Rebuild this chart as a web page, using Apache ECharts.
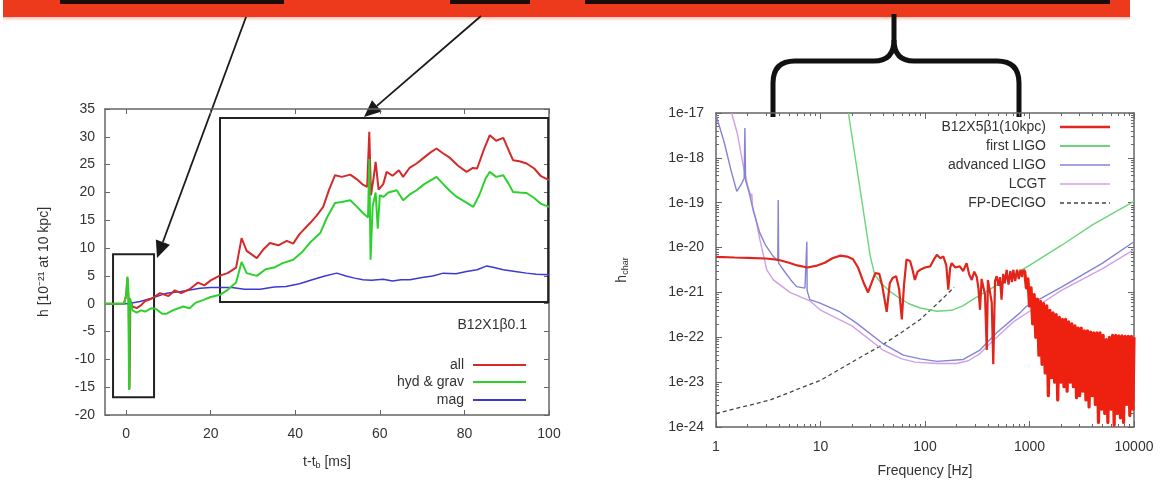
<!DOCTYPE html>
<html><head><meta charset="utf-8">
<script src="https://cdn.jsdelivr.net/npm/echarts@6/dist/echarts.min.js"></script>
<style>html,body{margin:0;padding:0;background:#fff}#c{width:1162px;height:486px}</style>
</head><body><div id="c"></div>
<script>
// ---------- Left chart data (t - t_b [ms], h [1e-21 at 10 kpc]) ----------
const leftXTicks = [0, 20, 40, 60, 80, 100];
const allH = [[-5,0],[-0.5,0],[0,1.5],[0.3,4.6],[0.6,0.5],[0.8,-15.3],[1.0,0.5],[1.5,-0.5],[2.5,-0.8],[3.5,-0.3],[4.5,0.5],[6,0.9],[8,1.9],[10,1.4],[11.5,2.4],[13,1.9],[15,2.6],[17,3.8],[18.5,3.3],[20,4.2],[22,5.0],[24,5.5],[26,6.5],[27.3,11.8],[28.5,9.5],[30.9,8.2],[32.5,9.8],[34,10.9],[36,10.5],[38,11.3],[39.5,10.8],[41,12.5],[43.5,14.5],[45,15.8],[46.6,17.4],[48,20.5],[49.4,23.1],[51,22.8],[53,23.2],[54.5,22.4],[56,21.4],[57,21.0],[57.5,30.9],[57.9,19.5],[58.5,22.5],[59,25.5],[59.7,20.5],[60.8,21.5],[61.6,23.7],[63,23.0],[64.5,24],[65.5,22.8],[67,24.4],[68.7,25.2],[70.5,26.3],[72,27.2],[73.4,27.9],[75,27],[76.6,26.2],[78.5,24.8],[80.5,23.7],[82,24.4],[83,24.3],[84.5,27.5],[86,30.3],[87.5,29.3],[89.2,29.8],[90.5,27.5],[91.5,25.8],[93,25.6],[94.7,25.2],[96.5,24.3],[98,23],[100,22.2]];
const hydGravH = [[-5,0],[-0.5,0],[0,1.5],[0.3,4.9],[0.5,3.0],[0.7,-15.5],[0.9,1.0],[1.5,-1.2],[2.5,-1.6],[3.5,-1.2],[4.5,-1.4],[6,-0.8],[7,-0.9],[8.5,-1.8],[9.6,-1.8],[11,-1.2],[13.5,-0.5],[15,-0.8],[16.5,0.2],[18.3,0.7],[20,1.2],[22.2,1.6],[24,2.5],[26,3.8],[27.3,7.5],[28.5,5.5],[30.9,5.0],[33,6.2],[35,6.5],[37,7.3],[39.5,7.9],[41.5,9.2],[43.5,11],[45.9,12.7],[47.5,15.5],[49.4,18.1],[51,18.3],[53,18.6],[54.5,17.5],[56,16.3],[57.2,15.5],[57.5,26],[57.8,7.9],[58.3,17.5],[59,20],[59.5,13.5],[60,19.5],[60.8,19.2],[62,20],[64,20.4],[65.5,18.6],[67,19.6],[68.7,20.4],[70.5,21.5],[73.4,22.8],[75,21.5],[76.5,20.3],[78.2,19.2],[80,18.4],[82.1,17.4],[83.5,19.5],[85,22.5],[86,23.7],[87.5,22.8],[89.2,23.1],[90.5,21.5],[91.5,20.1],[93,20],[94.7,19.9],[96.5,19],[98,18],[100,17.4]];
const magH = [[-5,0],[0,0],[1,0.1],[3.3,0.4],[6,1.0],[9.6,1.9],[13,2.2],[17.5,2.8],[20,2.9],[25,2.9],[28,2.6],[31.7,2.6],[35,3.0],[37.8,3.1],[41,3.6],[44,4.3],[47,5.0],[49.8,5.5],[52,5.0],[54,4.6],[56,4.3],[58,4.2],[60.8,4.4],[63,4.1],[65,4.3],[67.1,4.3],[70,4.7],[72.5,5.0],[75,5.5],[78,5.4],[80.5,5.8],[83,6.1],[85.3,6.8],[87,6.5],[89.2,6.1],[92,5.8],[94.7,5.5],[97,5.3],[100,5.2]];
const bigBox = [[22.2, 33.4], [99.8, 0.3]];
const smallBox = [[-3.1, 8.9], [6.6, -16.8]];

// ---------- Right chart data (Frequency [Hz], h_char) ----------
const rightXTicks = [1, 10, 100, 1000, 10000];
const rightXTickLabels = ['1', '10', '100', '1000', '10000'];
const rightYTicks = [1e-24, 1e-23, 1e-22, 1e-21, 1e-20, 1e-19, 1e-18, 1e-17];
const rightYTickLabels = ['1e-24', '1e-23', '1e-22', '1e-21', '1e-20', '1e-19', '1e-18', '1e-17'];
// B12X5β1 spectrum, low-frequency part (below ~900 Hz)
const b12x5Low = [[1,6.2e-21],[1.5,6.0e-21],[2,5.9e-21],[3,5.7e-21],[4,5.3e-21],[5,4.6e-21],[6,4.0e-21],[7.5,3.6e-21],[9,3.9e-21],[11,4.6e-21],[13,5.8e-21],[15.5,6.6e-21],[18,6.3e-21],[20.5,5.5e-21],[23,3.5e-21],[26,1.6e-21],[28.5,1.0e-21],[31,1.7e-21],[33.5,2.7e-21],[36.5,2.6e-21],[39,1.4e-21],[43,3.7e-22],[46,1.6e-21],[49,2.1e-21],[53,2.3e-21],[56.5,1.2e-21],[60,2.5e-22],[63,1.5e-21],[66.5,5.4e-21],[72,5.0e-21],[76,3.2e-21],[80,1.9e-21],[85,2.9e-21],[90,3.2e-21],[100,3.6e-21],[112,3.8e-21],[122,5.5e-21],[130,6.9e-21],[140,5.8e-21],[150,6.3e-21],[160,4.0e-21],[167,1.15e-21],[174,3.5e-21],[180,4.5e-21],[195,3.6e-21],[215,3.8e-21],[232,3.0e-21],[250,4.5e-21],[265,2.5e-21],[280,1.9e-21],[296,2.9e-21],[313,2.2e-21],[325,1.2e-21],[336,4.1e-22],[348,2.0e-21],[360,1.9e-21],[375,9e-22],[390,5.2e-23],[400,1.9e-21],[417,2.1e-21],[435,6e-22],[450,2.5e-23],[468,1.8e-21],[485,2.3e-21],[505,1.4e-21],[522,2.2e-21],[540,6.9e-22],[560,2.6e-21],[580,1.6e-21],[605,3.2e-21],[630,1.5e-21],[655,3.0e-21],[680,1.7e-21],[700,3.2e-21],[730,1.8e-21],[760,3.2e-21],[790,2.0e-21],[820,3.2e-21],[850,2.2e-21],[874,3.2e-21]];
// B12X5β1 spectrum, dense high-frequency part (from ~900 Hz)
const b12x5High = [[874,3.2e-21],[902,2.8e-21],[933,1.26e-21],[966,2.0e-21],[1000,5.0e-22],[1035,1.26e-21],[1072,2.0e-22],[1109,8.9e-22],[1148,1.0e-22],[1189,7.1e-22],[1230,4.0e-23],[1274,6.3e-22],[1318,2.5e-23],[1365,5.6e-22],[1413,1.6e-23],[1462,5.0e-22],[1514,5.0e-24],[1567,4.0e-22],[1622,1.26e-23],[1679,3.5e-22],[1738,1.0e-23],[1799,3.2e-22],[1862,4.0e-24],[1928,2.8e-22],[1995,1.0e-23],[2065,2.5e-22],[2138,7.9e-24],[2213,2.5e-22],[2291,6.3e-24],[2371,2.2e-22],[2455,1.0e-23],[2541,2.0e-22],[2630,7.9e-24],[2723,1.8e-22],[2818,4.5e-24],[2917,1.6e-22],[3020,5.0e-24],[3126,1.6e-22],[3236,6.3e-24],[3350,1.4e-22],[3467,4.0e-24],[3589,1.4e-22],[3715,2.8e-24],[3846,1.3e-22],[3981,5.0e-24],[4121,1.26e-22],[4266,3.2e-24],[4416,1.26e-22],[4571,1.26e-24],[4732,1.26e-22],[4898,2.5e-24],[5070,1.1e-22],[5248,2.0e-24],[5433,8.9e-23],[5623,1.26e-24],[5821,1.0e-22],[6026,2.5e-24],[6237,1.1e-22],[6457,1.1e-24],[6683,1.1e-22],[6918,2.0e-24],[7161,1.07e-22],[7413,1.6e-24],[7674,1.07e-22],[7943,1.26e-24],[8222,1.05e-22],[8511,3.2e-24],[8810,1.05e-22],[9120,1.8e-24],[9441,1.05e-22],[9772,2.5e-24],[10000,1.0e-22]];
const firstLIGO = [[18.5,1.0e-17],[21,1.45e-18],[24,1.9e-19],[27.7,2.1e-20],[30,6.3e-21],[33,2.5e-21],[38,1.6e-21],[45,1.1e-21],[55,7.9e-22],[70,5.6e-22],[90,4.5e-22],[130,3.8e-22],[180,4.0e-22],[230,5.0e-22],[290,7.1e-22],[400,1.1e-21],[600,2.0e-21],[1000,4.0e-21],[2000,1.1e-20],[4000,3.2e-20],[10000,1.07e-19]];
const advLIGO = [[1,9e-18],[1.2,2.2e-18],[1.4,5e-19],[1.58,1.8e-19],[1.75,2.6e-19],[1.86,3.5e-19],[1.89,4.6e-18],[1.92,3.2e-19],[2.1,1.5e-19],[2.3,6e-20],[2.63,2.1e-20],[3.0,1.1e-20],[3.54,6.3e-21],[3.9,5e-21],[3.94,1.15e-19],[3.98,4.5e-21],[4.4,3.2e-21],[5.2,1.9e-21],[5.9,1.35e-21],[7.1,1.25e-21],[7.35,1.3e-21],[7.4,1.35e-20],[7.45,1.1e-21],[7.9,6.9e-22],[9.9,5.8e-22],[15,3.8e-22],[22,2.1e-22],[40,7.1e-23],[62,4.0e-23],[90,3.3e-23],[130,2.9e-23],[232,3.2e-23],[336,5.2e-23],[485,1.26e-22],[810,3.5e-22],[935,4.9e-22],[2000,1.3e-21],[5000,4.5e-21],[10000,1.35e-20]];
const lcgt = [[1.41,1e-17],[1.6,3.5e-18],[1.83,6.3e-19],[2.0,2.5e-19],[2.18,1.3e-19],[2.2,1.6e-19],[2.24,8e-20],[2.4,4.5e-20],[2.63,1.5e-20],[3.06,3.2e-21],[3.54,1.9e-21],[5.1,1.0e-21],[7.9,6.5e-22],[9.9,4.1e-22],[20,1.8e-22],[39.6,5.2e-23],[60,3.3e-23],[80,2.8e-23],[130,2.6e-23],[200,2.6e-23],[260,3.0e-23],[330,4.2e-23],[450,8.5e-23],[700,2.2e-22],[1000,3.8e-22],[2000,1.1e-21],[5000,3.4e-21],[10000,9e-21]];
const decigo = [[1,2.0e-24],[3.3,4.0e-24],[10,1.1e-23],[20,2.8e-23],[40,7.0e-23],[60,1.3e-22],[90,2.5e-22],[130,5.5e-22],[190,1.3e-21]];

const FONT = 'Liberation Sans, Arial, sans-serif';
const TXT = '#333';

function minorLog(lo, hi) { // minor tick positions 2..9 per decade
  const out = [];
  for (let e = lo; e < hi; e++) for (let m = 2; m <= 9; m++) out.push(m * Math.pow(10, e));
  return out;
}
const minorX = minorLog(0, 4), minorY = minorLog(-24, -17);

function arrow(x1, y1, x2, y2, len, hw, color) {
  const dx = x2 - x1, dy = y2 - y1, L = Math.hypot(dx, dy);
  const ux = dx / L, uy = dy / L, bx = x2 - ux * len, by = y2 - uy * len;
  return [
    { type: 'line', shape: { x1, y1, x2: bx, y2: by }, style: { stroke: color, lineWidth: 1.8 } },
    { type: 'polygon', shape: { points: [[x2, y2], [bx - uy * hw, by + ux * hw], [bx + uy * hw, by - ux * hw]] }, style: { fill: color } }
  ];
}

const chart = echarts.init(document.getElementById('c'), null, { renderer: 'canvas' });

const axisLineStyle = { show: true, onZero: false, lineStyle: { color: '#666', width: 1.5 } };
const labelStyle = { color: TXT, fontFamily: FONT, fontSize: 14 };

const leftMirror = (pos, extra) => Object.assign({
  type: 'value', gridIndex: 0, position: pos, axisLine: axisLineStyle,
  axisLabel: { show: false }, splitLine: { show: false }
}, extra);

const rightTickAxis = (pos, ticks, len, line, extra) => Object.assign({
  type: 'log', logBase: 10, gridIndex: 1, position: pos,
  axisLine: line ? axisLineStyle : { show: false, onZero: false },
  axisLabel: { show: false }, splitLine: { show: false },
  axisTick: { show: true, inside: true, length: len, customValues: ticks, lineStyle: { color: '#666', width: 1 } }
}, extra);

const legendRows = [
  { name: 'B12X5β1(10kpc)', y: 127, color: '#e3261f', w: 2.5, dash: null },
  { name: 'first LIGO', y: 146, color: '#6cd47a', w: 2, dash: null },
  { name: 'advanced LIGO', y: 165, color: '#8583d6', w: 1.5, dash: null },
  { name: 'LCGT', y: 184, color: '#cfa0e6', w: 1.5, dash: null },
  { name: 'FP-DECIGO', y: 203, color: '#444', w: 1.5, dash: [4, 3] }
];
const leftLegendRows = [
  { name: 'all', y: 365, color: '#d42a2a' },
  { name: 'hyd & grav', y: 382, color: '#2dd12d' },
  { name: 'mag', y: 400, color: '#3a3ad0' }
];

const graphics = [];
// banner
graphics.push({ type: 'rect', shape: { x: 3, y: 0, width: 1127, height: 17 }, style: { fill: '#ee3a1c' } });
graphics.push({ type: 'rect', shape: { x: 3, y: 17, width: 1127, height: 6 }, style: { fill: new echarts.graphic.LinearGradient(0, 0, 0, 1, [{ offset: 0, color: 'rgba(238,58,28,0.35)' }, { offset: 1, color: 'rgba(255,255,255,0)' }]) } });
[[60, 224], [450, 80], [585, 525]].forEach(b => graphics.push({ type: 'rect', shape: { x: b[0], y: 0, width: b[1], height: 4 }, style: { fill: '#1b0c08' } }));
// arrows
graphics.push(...arrow(246, 17, 157, 258, 17, 7.5, '#1a1a1a'));
graphics.push(...arrow(481, 16, 364, 117, 17, 7.5, '#1a1a1a'));
// brace
const brace = { stroke: '#111', lineWidth: 5, fill: null };
graphics.push({ type: 'line', shape: { x1: 894, y1: 14, x2: 894, y2: 40 }, style: brace });
graphics.push({ type: 'bezierCurve', shape: { x1: 894, y1: 40, cpx1: 894, cpy1: 61, x2: 874, y2: 61 }, style: brace });
graphics.push({ type: 'bezierCurve', shape: { x1: 894, y1: 40, cpx1: 894, cpy1: 61, x2: 914, y2: 61 }, style: brace });
graphics.push({ type: 'line', shape: { x1: 874, y1: 61, x2: 795, y2: 61 }, style: brace });
graphics.push({ type: 'line', shape: { x1: 914, y1: 61, x2: 997, y2: 61 }, style: brace });
graphics.push({ type: 'bezierCurve', shape: { x1: 795, y1: 61, cpx1: 773, cpy1: 61, x2: 773, y2: 83 }, style: brace });
graphics.push({ type: 'bezierCurve', shape: { x1: 997, y1: 61, cpx1: 1019, cpy1: 61, x2: 1019, y2: 83 }, style: brace });
graphics.push({ type: 'line', shape: { x1: 773, y1: 83, x2: 773, y2: 117 }, style: brace });
graphics.push({ type: 'line', shape: { x1: 1019, y1: 83, x2: 1019, y2: 117 }, style: brace });
// left chart labels
graphics.push({ type: 'text', style: { text: 'B12X1β0.1', x: 527, y: 325, align: 'right', verticalAlign: 'middle', fill: TXT, font: '14px ' + FONT } });
leftLegendRows.forEach(r => {
  graphics.push({ type: 'text', style: { text: r.name, x: 464, y: r.y, align: 'right', verticalAlign: 'middle', fill: TXT, font: '14px ' + FONT } });
  graphics.push({ type: 'line', shape: { x1: 473, y1: r.y, x2: 526, y2: r.y }, style: { stroke: r.color, lineWidth: 2 } });
});
legendRows.forEach(r => {
  graphics.push({ type: 'text', style: { text: r.name, x: 1046, y: r.y, align: 'right', verticalAlign: 'middle', fill: TXT, font: '14px ' + FONT } });
  graphics.push({ type: 'line', shape: { x1: 1060, y1: r.y, x2: 1110, y2: r.y }, style: { stroke: r.color, lineWidth: r.w, lineDash: r.dash } });
});

const option = {
  backgroundColor: '#fff',
  animation: false,
  grid: [
    { left: 105, top: 109, width: 444, height: 306 },
    { left: 716, top: 113, width: 418, height: 314 }
  ],
  xAxis: [
    { type: 'value', gridIndex: 0, min: -5, max: 100, position: 'bottom', axisLine: axisLineStyle,
      axisTick: { inside: true, length: 5, customValues: leftXTicks, lineStyle: { color: '#666' } },
      axisLabel: Object.assign({ customValues: leftXTicks, margin: 12 }, labelStyle), splitLine: { show: false },
      name: 't-t{s|b} [ms]', nameLocation: 'middle', nameGap: 40,
      nameTextStyle: { color: TXT, fontFamily: FONT, fontSize: 14, rich: { s: { fontSize: 9, verticalAlign: 'bottom', padding: [6, 0, 0, 0], fontFamily: FONT, color: TXT } } } },
    leftMirror('top', { min: -5, max: 100, axisTick: { inside: true, length: 5, customValues: leftXTicks, lineStyle: { color: '#666' } } }),
    { type: 'log', logBase: 10, gridIndex: 1, min: 1, max: 10000, position: 'bottom', axisLine: axisLineStyle,
      axisTick: { inside: true, length: 6, customValues: rightXTicks, lineStyle: { color: '#666' } },
      axisLabel: Object.assign({ customValues: rightXTicks, margin: 13, formatter: v => rightXTickLabels[rightXTicks.findIndex(t => Math.abs(Math.log10(t) - Math.log10(v)) < 0.01)] }, labelStyle),
      splitLine: { show: false },
      name: 'Frequency [Hz]', nameLocation: 'middle', nameGap: 37, nameTextStyle: { color: TXT, fontFamily: FONT, fontSize: 14 } },
    rightTickAxis('top', rightXTicks, 6, true, { min: 1, max: 10000 }),
    rightTickAxis('bottom', minorX, 3, false, { min: 1, max: 10000 }),
    rightTickAxis('top', minorX, 3, false, { min: 1, max: 10000 })
  ],
  yAxis: [
    { type: 'value', gridIndex: 0, min: -20, max: 35, interval: 5, position: 'left', axisLine: axisLineStyle,
      axisTick: { inside: true, length: 5, lineStyle: { color: '#666' } },
      axisLabel: Object.assign({ margin: 10 }, labelStyle), splitLine: { show: false },
      name: 'h [10⁻²¹ at 10 kpc]', nameLocation: 'middle', nameGap: 54, nameTextStyle: { color: TXT, fontFamily: FONT, fontSize: 14 } },
    leftMirror('right', { min: -20, max: 35, interval: 5, axisTick: { inside: true, length: 5, lineStyle: { color: '#666' } } }),
    { type: 'log', logBase: 10, gridIndex: 1, min: 1e-24, max: 1e-17, position: 'left', axisLine: axisLineStyle,
      axisTick: { inside: true, length: 6, customValues: rightYTicks, lineStyle: { color: '#666' } },
      axisLabel: Object.assign({ customValues: rightYTicks, margin: 12, formatter: v => rightYTickLabels[rightYTicks.findIndex(t => Math.abs(Math.log10(t) - Math.log10(v)) < 0.01)] }, labelStyle),
      splitLine: { show: false },
      name: 'h{s|char}', nameLocation: 'middle', nameGap: 86,
      nameTextStyle: { color: TXT, fontFamily: FONT, fontSize: 14, rich: { s: { fontSize: 9, verticalAlign: 'bottom', padding: [6, 0, 0, 0], fontFamily: FONT, color: TXT } } } },
    rightTickAxis('right', rightYTicks, 6, true, { min: 1e-24, max: 1e-17 }),
    rightTickAxis('left', minorY, 3, false, { min: 1e-24, max: 1e-17 }),
    rightTickAxis('right', minorY, 3, false, { min: 1e-24, max: 1e-17 })
  ],
  series: [
    { name: 'mag', type: 'line', xAxisIndex: 0, yAxisIndex: 0, data: magH, showSymbol: false, lineStyle: { color: '#3a3ad0', width: 1.5 }, itemStyle: { color: '#3a3ad0' } },
    { name: 'all', type: 'line', xAxisIndex: 0, yAxisIndex: 0, data: allH, showSymbol: false, lineStyle: { color: '#d42a2a', width: 2 }, itemStyle: { color: '#d42a2a' },
      markArea: { silent: true, itemStyle: { color: 'rgba(0,0,0,0)', borderColor: '#222', borderWidth: 2 },
        data: [[{ coord: bigBox[0] }, { coord: bigBox[1] }], [{ coord: smallBox[0] }, { coord: smallBox[1] }]] } },
    { name: 'hyd & grav', type: 'line', xAxisIndex: 0, yAxisIndex: 0, data: hydGravH, showSymbol: false, lineStyle: { color: '#2dd12d', width: 2 }, itemStyle: { color: '#2dd12d' } },
    { name: 'FP-DECIGO', type: 'line', xAxisIndex: 2, yAxisIndex: 2, data: decigo, showSymbol: false, lineStyle: { color: '#444', width: 1.3, type: [4, 3] } },
    { name: 'LCGT', type: 'line', xAxisIndex: 2, yAxisIndex: 2, data: lcgt, showSymbol: false, lineStyle: { color: '#cfa0e6', width: 1.4 } },
    { name: 'advanced LIGO', type: 'line', xAxisIndex: 2, yAxisIndex: 2, data: advLIGO, showSymbol: false, lineStyle: { color: '#8583d6', width: 1.4 } },
    { name: 'first LIGO', type: 'line', xAxisIndex: 2, yAxisIndex: 2, data: firstLIGO, showSymbol: false, lineStyle: { color: '#6cd47a', width: 1.4 } },
    { name: 'B12X5β1(10kpc)', type: 'line', xAxisIndex: 2, yAxisIndex: 2, data: b12x5Low, showSymbol: false, lineStyle: { color: '#e0261c', width: 2.2 } },
    { name: 'B12X5β1(10kpc) high', type: 'line', xAxisIndex: 2, yAxisIndex: 2, data: b12x5High, showSymbol: false, lineStyle: { color: '#ee2010', width: 3.2, join: 'round' } }
  ],
  graphic: graphics
};
chart.setOption(option);
</script>
</body></html>
